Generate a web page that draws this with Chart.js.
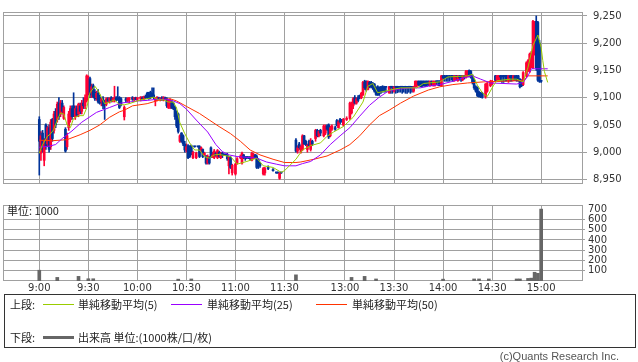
<!DOCTYPE html>
<html>
<head>
<meta charset="utf-8">
<script src="https://cdn.jsdelivr.net/npm/chart.js@4.4.0/dist/chart.umd.min.js"></script>
<style>
body { margin:0; background:#fff; width:638px; height:362px; position:relative; overflow:hidden; font-family:"Noto Sans CJK JP", sans-serif; color:#222; }
canvas { position:absolute; left:0; }
#priceChart { top:0; }
#volumeChart { top:196px; }
.t { position:absolute; font-size:11px; line-height:14px; white-space:nowrap; }
.ln { position:absolute; height:1px; }
.box { position:absolute; left:4px; top:294px; width:630px; height:52px; border:1px solid #333; }
.copy { position:absolute; right:19px; top:350px; font-family:"Liberation Sans", sans-serif; font-size:11px; color:#555; }
</style>
</head>
<body>
<canvas id="priceChart" width="638" height="196"></canvas>
<canvas id="volumeChart" width="638" height="100"></canvas>
<div class="t" style="left:7px;top:203px">単位: 1000</div>

<div class="box"></div>
<div class="t" style="left:10px;top:297px">上段:</div>
<div class="ln" style="left:43px;top:304px;width:31px;background:#99cc00"></div>
<div class="t" style="left:78px;top:297px">単純移動平均(5)</div>
<div class="ln" style="left:171px;top:304px;width:31px;background:#9900ff"></div>
<div class="t" style="left:207px;top:297px">単純移動平均(25)</div>
<div class="ln" style="left:316px;top:304px;width:31px;background:#ff3300"></div>
<div class="t" style="left:352px;top:297px">単純移動平均(50)</div>
<div class="t" style="left:10px;top:330px">下段:</div>
<div class="ln" style="left:43px;top:336px;width:31px;height:3px;background:#666"></div>
<div class="t" style="left:78px;top:330px">出来高 単位:(1000株/口/枚)</div>
<div class="copy">(c)Quants Research Inc.</div>

<script>
// minute slots: 9:00 = 0, 11:30 = 150, 13:00 = 187, 15:00 = 307
const tickSlots = [0, 30, 60, 90, 120, 150, 187, 217, 247, 277, 307];
const tickLabels = ["9:00", "9:30", "10:00", "10:30", "11:00", "11:30", "13:00", "13:30", "14:00", "14:30", "15:00"];
const priceTicks = [8950, 9000, 9050, 9100, 9150, 9200, 9250];
const volumeTicks = [100, 200, 300, 400, 500, 600, 700];

const candleSlot = [
	0, 1, 2, 3, 4, 5, 6, 7, 8, 9,
	10, 11, 12, 13, 14, 15, 16, 17, 18, 19,
	20, 21, 22, 23, 24, 25, 26, 27, 28, 29,
	30, 31, 32, 33, 34, 35, 36, 37, 38, 39,
	40, 41, 42, 43, 44, 45, 46, 47, 48, 49,
	50, 52, 53, 54, 55, 57, 58, 59, 60, 62,
	63, 64, 65, 66, 67, 68, 69, 70, 71, 72,
	73, 74, 75, 76, 77, 78, 79, 80, 81, 82,
	83, 84, 85, 86, 87, 88, 89, 90, 91, 92,
	93, 94, 95, 96, 97, 98, 99, 100, 101, 102,
	103, 104, 105, 106, 107, 108, 109, 110, 111, 112,
	113, 114, 115, 116, 117, 118, 120, 121, 123, 124,
	125, 126, 127, 128, 129, 130, 131, 132, 133, 134,
	135, 137, 138, 140, 143, 145, 146, 147, 148,
	157, 158, 159, 160, 161, 162, 163, 164, 165, 166,
	167, 169, 170, 171, 172, 174, 175, 176, 177, 178,
	179, 181, 182, 183, 184, 185, 186, 188, 190, 191,
	192, 193, 194, 195, 196, 197, 198, 199, 200, 201,
	202, 203, 204, 205, 206, 207, 208, 209, 210, 211,
	212, 214, 215, 216, 217, 218, 219, 220, 221, 222,
	223, 224, 225, 226, 227, 228, 229, 230, 231, 232,
	233, 234, 235, 236, 237, 238, 239, 240, 241, 242,
	243, 244, 245, 246, 247, 248, 249, 250, 251, 252,
	253, 254, 255, 256, 257, 258, 259, 260, 261, 262,
	263, 264, 265, 266, 267, 268, 269, 270, 271, 273,
	274, 276, 277, 279, 280, 281, 282, 283, 284, 285,
	286, 287, 288, 289, 290, 291, 292, 293, 294, 295,
	296, 298, 299, 300, 301, 302, 303, 304, 305, 306,
	307
];
const candleOpen = [
	9060, 8998, 9035, 8985, 9050, 9015, 9045, 9010, 9060, 9040,
	9075, 9060, 9090, 9070, 9090, 9062, 9042, 9010, 9045, 9060,
	9080, 9085, 9065, 9080, 9070, 9085, 9075, 9090, 9085, 9095,
	9110, 9135, 9110, 9122, 9110, 9100, 9108, 9100, 9092, 9098,
	9090, 9088, 9098, 9094, 9100, 9095, 9096, 9100, 9100, 9100,
	9098, 9065, 9098, 9095, 9096, 9100, 9098, 9100, 9097, 9098,
	9100, 9098, 9102, 9108, 9105, 9110, 9108, 9105, 9095, 9098,
	9100, 9097, 9100, 9096, 9100, 9098, 9082, 9085, 9092, 9090,
	9082, 9075, 9070, 9020, 9035, 9030, 9015, 9004, 9012, 9010,
	9012, 8990, 9010, 8990, 9010, 9010, 9002, 9005, 8995, 8992,
	8980, 8990, 9008, 8992, 8990, 8998, 8990, 9000, 8990, 8998,
	8995, 8995, 8995, 8975, 8990, 8962, 8960, 8980, 8990, 8980,
	8995, 8990, 8990, 8990, 8990, 8985, 8990, 8995, 8992, 8985,
	8980, 8960, 8962, 8972, 8968, 8962, 8962, 8952, 8962,
	9022, 9002, 9015, 9000, 9005, 9030, 9020, 9005, 9020, 9005,
	9020, 9025, 9040, 9030, 9040, 9030, 9035, 9048, 9050, 9030,
	9042, 9045, 9058, 9045, 9060, 9058, 9050, 9060, 9062, 9072,
	9085, 9100, 9090, 9100, 9104, 9100, 9105, 9128, 9130, 9115,
	9128, 9128, 9125, 9125, 9118, 9120, 9118, 9120, 9120, 9120,
	9120, 9109, 9120, 9120, 9112, 9120, 9120, 9120, 9120, 9120,
	9120, 9120, 9120, 9120, 9120, 9120, 9112, 9120, 9122, 9130,
	9130, 9130, 9130, 9130, 9130, 9130, 9122, 9130, 9122, 9123,
	9130, 9130, 9130, 9122, 9140, 9140, 9140, 9140, 9140, 9140,
	9140, 9132, 9140, 9131, 9140, 9140, 9133, 9140, 9138, 9140,
	9150, 9148, 9140, 9132, 9120, 9118, 9110, 9108, 9108, 9102,
	9112, 9122, 9125, 9140, 9132, 9132, 9140, 9140, 9140, 9140,
	9140, 9132, 9140, 9140, 9132, 9140, 9140, 9140, 9134, 9132,
	9124, 9140, 9150, 9148, 9160, 9155, 9180, 9240, 9238, 9200,
	9130
];
const candleHigh = [
	9065, 9038, 9040, 9025, 9052, 9048, 9050, 9060, 9062, 9075,
	9080, 9092, 9100, 9095, 9095, 9085, 9045, 9035, 9075, 9085,
	9085, 9109, 9085, 9085, 9090, 9090, 9095, 9100, 9105, 9142,
	9140, 9138, 9125, 9125, 9115, 9112, 9115, 9105, 9100, 9102,
	9095, 9100, 9100, 9100, 9102, 9100, 9121, 9102, 9120, 9102,
	9100, 9085, 9100, 9100, 9100, 9102, 9100, 9101, 9100, 9102,
	9102, 9103, 9105, 9110, 9110, 9112, 9118, 9118, 9100, 9102,
	9101, 9100, 9102, 9102, 9101, 9100, 9096, 9098, 9095, 9092,
	9084, 9076, 9072, 9032, 9036, 9032, 9020, 9015, 9014, 9012,
	9013, 9002, 9011, 9000, 9010, 9012, 9010, 9006, 9000, 8994,
	8995, 8992, 9010, 9000, 9005, 9000, 9005, 9002, 9000, 9000,
	8996, 8996, 8998, 8992, 8992, 8978, 8980, 8990, 8995, 9000,
	8996, 8992, 8992, 8991, 8992, 9000, 8998, 8996, 8995, 8988,
	8982, 8972, 8972, 8975, 8970, 8962, 8962, 8962, 8962,
	9025, 9012, 9018, 9012, 9032, 9031, 9022, 9015, 9022, 9025,
	9022, 9042, 9042, 9040, 9042, 9050, 9050, 9050, 9052, 9048,
	9050, 9048, 9060, 9058, 9062, 9060, 9062, 9065, 9092, 9092,
	9100, 9104, 9100, 9104, 9105, 9110, 9130, 9132, 9131, 9131,
	9130, 9130, 9128, 9126, 9120, 9122, 9120, 9121, 9122, 9121,
	9121, 9121, 9121, 9121, 9121, 9121, 9121, 9121, 9121, 9121,
	9120, 9121, 9121, 9121, 9121, 9121, 9121, 9131, 9131, 9131,
	9131, 9131, 9131, 9131, 9131, 9131, 9131, 9131, 9131, 9131,
	9131, 9131, 9131, 9141, 9141, 9141, 9141, 9141, 9141, 9141,
	9141, 9141, 9141, 9141, 9141, 9141, 9141, 9141, 9150, 9150,
	9151, 9150, 9142, 9134, 9122, 9120, 9112, 9110, 9110, 9126,
	9128, 9132, 9132, 9141, 9141, 9141, 9141, 9141, 9141, 9141,
	9141, 9141, 9141, 9141, 9141, 9141, 9141, 9141, 9135, 9133,
	9148, 9166, 9170, 9182, 9185, 9242, 9240, 9250, 9240, 9205,
	9132
];
const candleLow = [
	8958, 8985, 9000, 8975, 9005, 9010, 9000, 9005, 9020, 9035,
	9045, 9055, 9060, 9065, 9070, 9060, 9000, 9005, 9040, 9055,
	9060, 9065, 9060, 9065, 9065, 9070, 9070, 9080, 9080, 9092,
	9105, 9100, 9100, 9100, 9095, 9095, 9090, 9088, 9085, 9080,
	9060, 9085, 9092, 9090, 9092, 9092, 9092, 9094, 9095, 9080,
	9085, 9059, 9092, 9092, 9090, 9095, 9094, 9096, 9094, 9094,
	9096, 9096, 9098, 9098, 9097, 9098, 9100, 9098, 9085, 9094,
	9096, 9094, 9095, 9094, 9097, 9082, 9080, 9080, 9080, 9078,
	9060, 9045, 9035, 9018, 9018, 9012, 9000, 9000, 8988, 8990,
	8995, 8988, 9009, 8988, 9009, 8990, 9000, 8990, 8994, 8978,
	8978, 8978, 8990, 8990, 8988, 8992, 8988, 8990, 8988, 8990,
	8994, 8994, 8985, 8960, 8970, 8958, 8958, 8978, 8988, 8978,
	8988, 8985, 8988, 8988, 8985, 8984, 8988, 8988, 8970, 8970,
	8972, 8958, 8958, 8968, 8965, 8961, 8961, 8950, 8961,
	9000, 8998, 9005, 8998, 9003, 9014, 9012, 9000, 9010, 9002,
	9012, 9020, 9028, 9028, 9030, 9028, 9032, 9040, 9025, 9028,
	9040, 9040, 9048, 9044, 9052, 9055, 9048, 9058, 9060, 9070,
	9080, 9088, 9088, 9092, 9098, 9098, 9104, 9115, 9112, 9114,
	9118, 9118, 9115, 9110, 9104, 9104, 9104, 9108, 9110, 9110,
	9110, 9108, 9108, 9108, 9110, 9108, 9109, 9110, 9110, 9108,
	9110, 9108, 9108, 9110, 9108, 9110, 9110, 9119, 9120, 9122,
	9120, 9120, 9121, 9120, 9121, 9122, 9121, 9122, 9121, 9121,
	9124, 9122, 9122, 9121, 9132, 9130, 9130, 9130, 9130, 9132,
	9130, 9130, 9132, 9130, 9132, 9130, 9131, 9134, 9136, 9138,
	9138, 9136, 9125, 9115, 9110, 9102, 9101, 9100, 9099, 9099,
	9110, 9120, 9124, 9130, 9130, 9130, 9130, 9128, 9128, 9130,
	9130, 9128, 9130, 9130, 9131, 9131, 9130, 9130, 9118, 9120,
	9122, 9138, 9148, 9146, 9155, 9153, 9178, 9150, 9130, 9128,
	9128
];
const candleClose = [
	9020, 9030, 9005, 9020, 9010, 9045, 9005, 9055, 9025, 9070,
	9050, 9088, 9065, 9090, 9075, 9082, 9002, 9030, 9070, 9080,
	9065, 9070, 9080, 9068, 9088, 9075, 9090, 9085, 9100, 9140,
	9135, 9105, 9120, 9102, 9098, 9108, 9092, 9090, 9098, 9085,
	9088, 9098, 9094, 9099, 9095, 9098, 9100, 9096, 9098, 9082,
	9088, 9082, 9095, 9098, 9100, 9097, 9100, 9097, 9100, 9101,
	9098, 9102, 9100, 9100, 9098, 9100, 9102, 9100, 9098, 9100,
	9097, 9099, 9096, 9100, 9098, 9085, 9095, 9096, 9082, 9080,
	9065, 9048, 9038, 9030, 9020, 9015, 9004, 9010, 8990, 8992,
	8998, 9000, 9010, 8998, 9010, 8992, 9008, 8992, 8998, 8980,
	8992, 8980, 8992, 8995, 9002, 8994, 9003, 8992, 8998, 8994,
	8995, 8995, 8988, 8990, 8972, 8976, 8978, 8988, 8992, 8998,
	8990, 8989, 8990, 8990, 8988, 8998, 8996, 8990, 8972, 8975,
	8975, 8970, 8970, 8970, 8966, 8962, 8962, 8962, 8962,
	9002, 9008, 9008, 9010, 9030, 9015, 9014, 9012, 9012, 9020,
	9015, 9040, 9030, 9038, 9035, 9048, 9046, 9042, 9028, 9045,
	9048, 9042, 9050, 9056, 9055, 9058, 9060, 9062, 9090, 9088,
	9098, 9090, 9098, 9095, 9100, 9108, 9128, 9118, 9115, 9130,
	9120, 9120, 9118, 9112, 9106, 9105, 9108, 9110, 9112, 9118,
	9119, 9120, 9119, 9119, 9120, 9119, 9118, 9119, 9118, 9119,
	9119, 9118, 9119, 9119, 9118, 9119, 9120, 9130, 9130, 9124,
	9122, 9121, 9122, 9122, 9123, 9124, 9130, 9125, 9130, 9130,
	9129, 9129, 9129, 9140, 9136, 9137, 9137, 9138, 9138, 9138,
	9138, 9140, 9138, 9140, 9137, 9136, 9140, 9138, 9148, 9148,
	9140, 9138, 9128, 9118, 9112, 9104, 9102, 9102, 9101, 9125,
	9126, 9130, 9130, 9132, 9140, 9140, 9138, 9138, 9139, 9138,
	9137, 9140, 9137, 9135, 9140, 9133, 9132, 9131, 9120, 9122,
	9146, 9164, 9168, 9180, 9182, 9240, 9238, 9155, 9132, 9130,
	9130
];

const ma5Slot = [0, 2, 5, 7, 9, 11, 13, 15, 17, 19, 21, 24, 27, 29, 31, 34, 36, 38, 40, 43, 46, 49, 52, 55, 58, 62, 66, 70, 73, 76, 79, 82, 84, 86, 89, 92, 95, 98, 101, 104, 107, 110, 113, 117, 121, 127, 133, 137, 143, 148, 150, 157, 161, 166, 172, 176, 180, 186, 192, 198, 201, 204, 207, 213, 221, 231, 235, 245, 250, 262, 265, 268, 271, 274, 278, 280, 288, 292, 296, 299, 302, 305, 307, 308, 309, 311];
const ma5 = [8998, 9014, 9029, 9034, 9042, 9059, 9072, 9070, 9050, 9045, 9062, 9067, 9067, 9081, 9109, 9121, 9113, 9101, 9089, 9092, 9096, 9087, 9087, 9089, 9092, 9096, 9098, 9101, 9096, 9096, 9092, 9092, 9081, 9054, 9034, 9017, 9004, 9004, 8992, 8989, 8995, 8996, 8994, 8992, 8978, 8983, 8989, 8975, 8972, 8963, 8966, 8987, 9004, 9012, 9017, 9029, 9037, 9047, 9064, 9092, 9121, 9126, 9109, 9113, 9118, 9118, 9126, 9129, 9138, 9140, 9143, 9123, 9109, 9102, 9123, 9131, 9134, 9134, 9129, 9156, 9196, 9215, 9192, 9168, 9148, 9128];

const ma25Slot = [0, 6, 10, 14, 20, 26, 35, 43, 50, 60, 66, 72, 78, 82, 86, 90, 96, 103, 108, 112, 116, 121, 133, 139, 145, 150, 157, 161, 166, 172, 178, 184, 190, 196, 202, 208, 214, 221, 227, 233, 238, 245, 253, 259, 265, 270, 276, 292, 296, 299, 301, 311];
const ma25 = [9009, 9011, 9014, 9025, 9039, 9055, 9073, 9082, 9090, 9094, 9095, 9097, 9097, 9094, 9089, 9079, 9059, 9037, 9014, 9001, 8995, 8992, 8989, 8982, 8978, 8975, 8975, 8979, 8983, 8995, 9014, 9030, 9045, 9066, 9086, 9101, 9113, 9116, 9118, 9118, 9121, 9124, 9130, 9136, 9140, 9134, 9127, 9125, 9128, 9140, 9153, 9153];

const ma50Slot = [0, 8, 17, 25, 31, 37, 43, 49, 52, 57, 66, 74, 80, 84, 90, 98, 104, 110, 117, 123, 129, 135, 143, 150, 157, 160, 168, 176, 184, 190, 196, 202, 208, 214, 221, 229, 238, 245, 253, 262, 272, 282, 292, 296, 299, 311];
const ma50 = [9022, 9021, 9023, 9032, 9040, 9050, 9064, 9074, 9077, 9085, 9089, 9096, 9098, 9094, 9084, 9071, 9059, 9047, 9034, 9020, 9004, 8995, 8987, 8981, 8981, 8982, 8987, 8993, 9004, 9014, 9030, 9050, 9067, 9077, 9090, 9103, 9114, 9120, 9124, 9127, 9129, 9130, 9131, 9131, 9140, 9140];

const volumeSlot = [0, 11, 24, 30, 33, 85, 93, 157, 191, 199, 206, 247, 266, 269, 275, 292, 294, 299, 301, 303, 305, 307];
const volume = [105, 35, 45, 22, 22, 18, 20, 60, 35, 45, 20, 18, 20, 20, 20, 20, 20, 25, 28, 85, 75, 700];

const upColor = "#ff0033";
const downColor = "#003399";
const gridColor = "#a0a0a0";
const tickFont = { family: "DejaVu Sans", size: 10 };

const candleColors = candleSlot.map((s, i) => candleClose[i] > candleOpen[i] ? upColor : downColor);
const bodies = candleSlot.map((s, i) => ({ x: s, y: [candleOpen[i], candleClose[i]] }));
const wicks = candleSlot.map((s, i) => ({ x: s, y: [candleLow[i], candleHigh[i]] }));
const points = (slots, vals) => slots.map((s, i) => ({ x: s, y: vals[i] }));

// box round the plot area
const frame = {
	id: "frame",
	beforeDatasetsDraw(chart) {
		const a = chart.chartArea;
		const ctx = chart.ctx;
		ctx.save();
		ctx.strokeStyle = gridColor;
		ctx.lineWidth = 1;
		ctx.strokeRect(Math.round(a.left) + 0.5, Math.round(a.top) + 0.5, Math.round(a.right - a.left) - 1, Math.round(a.bottom - a.top) - 1);
		ctx.restore();
	}
};

function timeAxis(showLabels) {
	return {
		type: "linear",
		min: -22.2,
		max: 332.6,
		offset: false,
		grid: { color: gridColor, drawTicks: false, offset: false },
		border: { display: false },
		ticks: {
			display: showLabels,
			autoSkip: false,
			maxRotation: 0,
			padding: 1,
			color: "#333",
			font: tickFont,
			callback: (v, i) => tickLabels[i]
		},
		afterBuildTicks: (s) => { s.ticks = tickSlots.map(v => ({ value: v })); },
		afterFit: (s) => { s.height = showLabels ? 15 : 0; }
	};
}

new Chart(document.getElementById("priceChart"), {
	type: "bar",
	data: {
		datasets: [
			{ type: "line", data: points(ma5Slot, ma5), borderColor: "#99cc00", borderWidth: 1, pointRadius: 0, order: 0 },
			{ type: "line", data: points(ma25Slot, ma25), borderColor: "#9900ff", borderWidth: 1, pointRadius: 0, order: 1 },
			{ type: "line", data: points(ma50Slot, ma50), borderColor: "#ff3300", borderWidth: 1, pointRadius: 0, order: 2 },
			{ data: bodies, backgroundColor: candleColors, barThickness: 2, minBarLength: 1, grouped: false, order: 3 },
			{ data: wicks, backgroundColor: candleColors, barThickness: 1, grouped: false, order: 4 }
		]
	},
	options: {
		responsive: false,
		animation: false,
		layout: { padding: { left: 3, top: 1.5, right: 0, bottom: 6 } },
		plugins: { legend: { display: false }, tooltip: { enabled: false } },
		scales: {
			x: timeAxis(false),
			y: {
				position: "right",
				min: 8941.6,
				max: 9257.2,
				grid: { color: gridColor, tickLength: 4 },
				border: { display: false },
				ticks: { padding: 6, autoSkip: false, color: "#333", font: tickFont, callback: (v) => v.toLocaleString("en-US") },
				afterBuildTicks: (s) => { s.ticks = priceTicks.map(v => ({ value: v })); },
				afterFit: (s) => { s.width = 55; }
			}
		}
	},
	plugins: [frame]
});

new Chart(document.getElementById("volumeChart"), {
	type: "bar",
	data: {
		datasets: [
			{ data: points(volumeSlot, volume), backgroundColor: "#666666", barThickness: 3, grouped: false }
		]
	},
	options: {
		responsive: false,
		animation: false,
		layout: { padding: { left: 3, top: 5.5, right: 0, bottom: 0 } },
		plugins: { legend: { display: false }, tooltip: { enabled: false } },
		scales: {
			x: timeAxis(true),
			y: {
				position: "right",
				min: 0,
				max: 740,
				// no line at the top tick, only its label
				grid: { color: (c) => c.tick && c.tick.value === 700 ? "rgba(0,0,0,0)" : gridColor, tickLength: 2 },
				border: { display: false },
				ticks: { padding: 3, autoSkip: false, color: "#333", font: tickFont },
				afterBuildTicks: (s) => { s.ticks = volumeTicks.map(v => ({ value: v })); },
				afterFit: (s) => { s.width = 55; }
			}
		}
	},
	plugins: [frame]
});
</script>
</body>
</html>
